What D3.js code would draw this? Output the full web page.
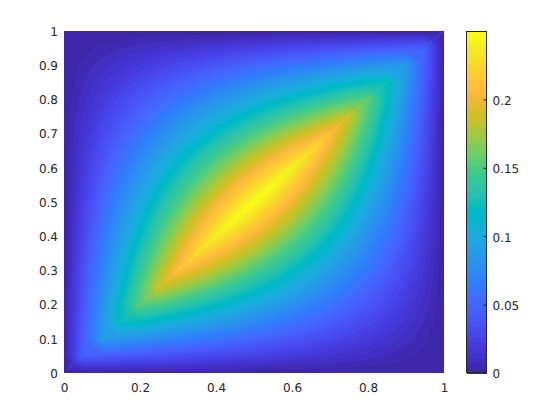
<!DOCTYPE html>
<html><head><meta charset="utf-8">
<script src="https://d3js.org/d3.v7.min.js"></script>
<style>
html,body{margin:0;padding:0;background:#fff}
svg{display:block}
text{font-family:"DejaVu Sans",sans-serif;font-size:12px;fill:#262626;text-rendering:geometricPrecision}
</style></head><body>
<svg id="c" width="560" height="420"></svg>
<script>
const xTicks=[0,0.2,0.4,0.6,0.8,1];
const yTicks=[0,0.1,0.2,0.3,0.4,0.5,0.6,0.7,0.8,0.9,1];
const cbTicks=[0,0.05,0.1,0.15,0.2];
const zDomain=[0,0.25];
// surface samples, step 0.05 in x and y; first row is y = 1, last row is y = 0
const zRows=[
[0,0,0,0,0,0,0,0,0,0,0,0,0,0,0,0,0,0,0,0,0],
[0,.0025,.005,.0075,.01,.0125,.015,.0175,.02,.0225,.025,.0275,.03,.0325,.035,.0375,.04,.0425,.045,.046,0],
[0,.005,.01,.015,.02,.025,.03,.035,.04,.045,.05,.055,.06,.065,.07,.075,.08,.085,.086,.045,0],
[0,.0075,.015,.0225,.03,.0375,.045,.0525,.06,.0675,.075,.0825,.09,.0975,.105,.1125,.12,.122,.085,.0425,0],
[0,.01,.02,.03,.04,.05,.06,.07,.08,.09,.1,.11,.12,.13,.14,.15,.155,.12,.08,.04,0],
[0,.0125,.025,.0375,.05,.0625,.075,.0875,.1,.1125,.125,.1375,.15,.1625,.175,.1875,.15,.1125,.075,.0375,0],
[0,.015,.03,.045,.06,.075,.09,.105,.12,.135,.15,.165,.18,.195,.21,.175,.14,.105,.07,.035,0],
[0,.0175,.035,.0525,.07,.0875,.105,.1225,.14,.1575,.175,.1925,.21,.2275,.195,.1625,.13,.0975,.065,.0325,0],
[0,.02,.04,.06,.08,.1,.12,.14,.16,.18,.2,.22,.24,.21,.18,.15,.12,.09,.06,.03,0],
[0,.0225,.045,.0675,.09,.1125,.135,.1575,.18,.2025,.225,.2475,.22,.1925,.165,.1375,.11,.0825,.055,.0275,0],
[0,.025,.05,.075,.1,.125,.15,.175,.2,.225,.25,.225,.2,.175,.15,.125,.1,.075,.05,.025,0],
[0,.0275,.055,.0825,.11,.1375,.165,.1925,.22,.2475,.225,.2025,.18,.1575,.135,.1125,.09,.0675,.045,.0225,0],
[0,.03,.06,.09,.12,.15,.18,.21,.24,.22,.2,.18,.16,.14,.12,.1,.08,.06,.04,.02,0],
[0,.0325,.065,.0975,.13,.1625,.195,.2275,.21,.1925,.175,.1575,.14,.1225,.105,.0875,.07,.0525,.035,.0175,0],
[0,.035,.07,.105,.14,.175,.21,.195,.18,.165,.15,.135,.12,.105,.09,.075,.06,.045,.03,.015,0],
[0,.0375,.075,.1125,.15,.1875,.175,.1625,.15,.1375,.125,.1125,.1,.0875,.075,.0625,.05,.0375,.025,.0125,0],
[0,.04,.08,.12,.155,.15,.14,.13,.12,.11,.1,.09,.08,.07,.06,.05,.04,.03,.02,.01,0],
[0,.0425,.085,.122,.12,.1125,.105,.0975,.09,.0825,.075,.0675,.06,.0525,.045,.0375,.03,.0225,.015,.0075,0],
[0,.045,.086,.085,.08,.075,.07,.065,.06,.055,.05,.045,.04,.035,.03,.025,.02,.015,.01,.005,0],
[0,.046,.045,.0425,.04,.0375,.035,.0325,.03,.0275,.025,.0225,.02,.0175,.015,.0125,.01,.0075,.005,.0025,0],
[0,0,0,0,0,0,0,0,0,0,0,0,0,0,0,0,0,0,0,0,0]
];
const xyDomain=[0,1];
const parula=[[.2422,.1504,.6603],[.2504,.165,.7076],[.2578,.1818,.7511],[.2647,.1978,.7952],[.2706,.2147,.8364],[.2751,.2342,.871],[.2783,.2559,.8991],[.2803,.2782,.9221],[.2813,.3006,.9414],[.281,.3228,.9579],[.2795,.3447,.9717],[.276,.3667,.9829],[.2699,.3892,.9906],[.2602,.4123,.9952],[.244,.4358,.9988],[.2206,.4603,.9973],[.1963,.4847,.9892],[.1834,.5074,.9798],[.1786,.5289,.9682],[.1764,.5499,.952],[.1687,.5703,.9359],[.154,.5902,.9218],[.146,.6091,.9079],[.138,.6276,.8973],[.1248,.6459,.8883],[.1113,.6635,.8763],[.0952,.6798,.8598],[.0689,.6948,.8394],[.0297,.7082,.8163],[.0036,.7203,.7917],[.0067,.7312,.766],[.0433,.7411,.7394],[.0964,.75,.712],[.1408,.7584,.6842],[.1717,.767,.6554],[.1938,.7758,.6251],[.2161,.7843,.5923],[.247,.7918,.5567],[.2906,.7973,.5188],[.3406,.8008,.4789],[.3909,.8029,.4354],[.4456,.8024,.3909],[.5044,.7993,.348],[.5616,.7942,.3045],[.6174,.7876,.2612],[.672,.7793,.2227],[.7242,.7698,.191],[.7738,.7598,.1646],[.8203,.7498,.1535],[.8634,.7406,.1596],[.9035,.733,.1774],[.9393,.7288,.21],[.9728,.7298,.2394],[.9956,.7434,.2371],[.997,.7659,.2199],[.9952,.7893,.2028],[.9892,.8136,.1885],[.9786,.8386,.1766],[.9676,.8639,.1643],[.961,.889,.1537],[.9597,.9135,.1423],[.9628,.9373,.1265],[.9691,.9606,.1064],[.9769,.9839,.0805]];

const colors=parula.map(c=>d3.rgb(c[0]*255,c[1]*255,c[2]*255).formatHex());
const plot={l:64,r:444,t:31,b:373}, bar={l:466.5,r:486.5};
const x=d3.scaleLinear().domain(xyDomain).range([plot.l,plot.r]);
const y=d3.scaleLinear().domain(xyDomain).range([plot.b,plot.t]);
const cy=d3.scaleLinear().domain(zDomain).range([plot.b,plot.t]);
const svg=d3.select("#c");

const ny=zRows.length,nx=zRows[0].length,n=colors.length;
const gx=d3.scaleLinear().domain([0.5,nx-0.5]).range(xyDomain);
const gy=d3.scaleLinear().domain([0.5,ny-0.5]).range([xyDomain[1],xyDomain[0]]);
const bandTop=d3.range(n).map(i=>zDomain[0]+(zDomain[1]-zDomain[0])*(i+1)/n);
const ridge=nx-1; // row+column on the crease of the surface

// The crease is a lattice diagonal: trace each side on its own so that contours meet in
// sharp points there. The cell straddling the crease continues as a plane from the table.
function sideGrid(sign){
  const out=[];
  for(let r=0;r<ny;r++)for(let c=0;c<nx;c++){
    const s=(r+c-ridge)*sign;
    let v=0;
    if(s<=0)v=zRows[r][c];
    else if(s===1)v=zRows[r-sign][c]+zRows[r][c-sign]-zRows[r-sign][c-sign];
    out.push(-v); // traced as z <= level, painted from the top band down
  }
  return out;
}
const contourGen=d3.contours().size([nx,ny]).thresholds(bandTop.map(t=>-t));
const path=d3.geoPath(d3.geoTransform({point(px,py){this.stream.point(x(gx(px)),y(gy(py)));}}));
const rectPts=[[plot.l,plot.b],[plot.l,plot.t],[plot.r,plot.t],[plot.r,plot.b]];
const defs=svg.append("defs");
// the unsplit trace softens the two thin ends of the crease, as in the reference
const grad=defs.append("linearGradient").attr("id","endsFade").attr("gradientUnits","userSpaceOnUse")
  .attr("x1",plot.l).attr("y1",plot.b).attr("x2",plot.r).attr("y2",plot.t);
[[0,.3],[.1,.7],[.3,0],[.7,0],[.9,.7],[1,.3]].forEach(s=>grad.append("stop").attr("offset",s[0]).attr("stop-color","#fff").attr("stop-opacity",s[1]));
defs.append("mask").attr("id","endsMask").attr("maskUnits","userSpaceOnUse")
  .attr("x",plot.l).attr("y",plot.t).attr("width",plot.r-plot.l).attr("height",plot.b-plot.t)
  .append("rect").attr("x",plot.l).attr("y",plot.t).attr("width",plot.r-plot.l).attr("height",plot.b-plot.t).attr("fill","url(#endsFade)");
const layers=[
 {id:"base",grid:zRows.flat().map(v=>-v),clip:rectPts},
 {id:"upper",grid:sideGrid(1),clip:[rectPts[0],rectPts[1],rectPts[2]]},
 {id:"lower",grid:sideGrid(-1),clip:[rectPts[0],rectPts[3],rectPts[2]]},
 {id:"soft",grid:zRows.flat().map(v=>-v),clip:rectPts,mask:"url(#endsMask)"}
];
layers.forEach(s=>{
  defs.append("clipPath").attr("id",s.id).append("polygon").attr("points",s.clip.join(" "));
  const g=svg.append("g").attr("clip-path",`url(#${s.id})`).attr("mask",s.mask||null);
  g.selectAll("path").data(contourGen(s.grid)).join("path")
    .attr("d",path).attr("fill",(d,i)=>colors[n-1-i]);
});

const ax=svg.append("g").attr("transform",`translate(0,${plot.b})`)
  .call(d3.axisBottom(x).tickValues(xTicks).tickSize(0).tickPadding(8).tickFormat(d3.format("~g")));
const ay=svg.append("g").attr("transform",`translate(${plot.l},0)`)
  .call(d3.axisLeft(y).tickValues(yTicks).tickSize(0).tickPadding(6).tickFormat(d3.format("~g")));
ax.select(".domain").remove(); ay.select(".domain").remove();
ax.selectAll("text").attr("y",10);
ay.selectAll("text").attr("y",0.5);

// colour bar: one band per colormap entry
const gb=svg.append("g").attr("shape-rendering","crispEdges");
const bandH=(plot.b-plot.t)/n;
gb.selectAll("rect").data(colors).join("rect")
  .attr("x",bar.l).attr("width",bar.r-bar.l)
  .attr("y",(d,i)=>Math.floor(cy(bandTop[i])))
  .attr("height",Math.ceil(bandH)+1)
  .attr("fill",d=>d);
svg.append("rect").attr("x",bar.l).attr("y",plot.t+0.5).attr("width",bar.r-bar.l).attr("height",plot.b-plot.t-1)
  .attr("fill","none").attr("stroke","#262626");
const ac=svg.append("g").attr("transform",`translate(${bar.r},0)`)
  .call(d3.axisRight(cy).tickValues(cbTicks).tickSizeInner(-3).tickSizeOuter(0).tickPadding(6).tickFormat(d3.format("~g")));
ac.select(".domain").remove();
ac.selectAll("line").attr("stroke","#262626");
ac.selectAll("text").attr("x",6).attr("y",1);
</script></body></html>
